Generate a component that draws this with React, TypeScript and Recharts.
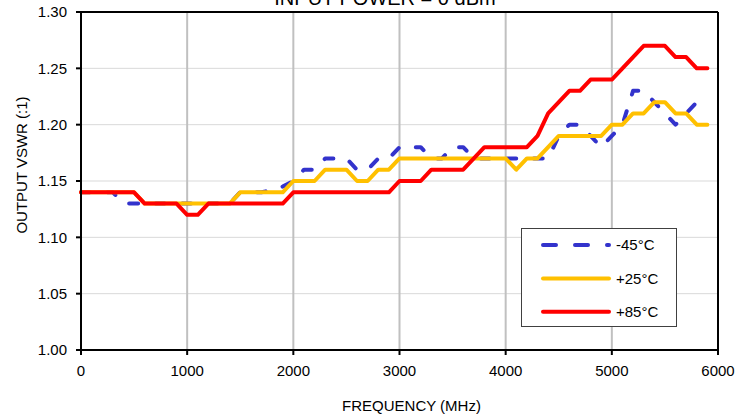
import React from 'react';
import {
  LineChart,
  Line,
  XAxis,
  YAxis,
  CartesianGrid,
  Legend,
  ReferenceLine,
  Label,
  Customized,
} from 'recharts';

const FONT = '"Liberation Sans", Arial, sans-serif';

// frequency in MHz
const freqs = [
  0, 100, 200, 300, 400, 500, 600, 700, 800, 900,
  1000, 1100, 1200, 1300, 1400, 1500, 1600, 1700, 1800, 1900,
  2000, 2100, 2200, 2300, 2400, 2500, 2600, 2700, 2800, 2900,
  3000, 3100, 3200, 3300, 3400, 3500, 3600, 3700, 3800, 3900,
  4000, 4100, 4200, 4300, 4400, 4500, 4600, 4700, 4800, 4900,
  5000, 5100, 5200, 5300, 5400, 5500, 5600, 5700, 5800, 5900,
];

// output VSWR at -45°C
const vswrMinus45 = [
  1.14, 1.14, 1.14, 1.14, 1.13, 1.13, 1.13, 1.13, 1.13, 1.13,
  1.13, 1.13, 1.13, 1.13, 1.13, 1.14, 1.14, 1.14, 1.142, 1.145,
  1.15, 1.16, 1.16, 1.17, 1.17, 1.17, 1.16, 1.16, 1.17, 1.17,
  1.18, 1.18, 1.18, 1.17, 1.17, 1.18, 1.18, 1.17, 1.17, 1.17,
  1.17, 1.17, 1.17, 1.17, 1.17, 1.19, 1.2, 1.2, 1.19, 1.18,
  1.19, 1.2, 1.23, 1.23, 1.22, 1.21, 1.2, 1.21, 1.22, 1.22,
];

// output VSWR at +25°C
const vswrPlus25 = [
  1.14, 1.14, 1.14, 1.14, 1.14, 1.14, 1.13, 1.13, 1.13, 1.13,
  1.13, 1.13, 1.13, 1.13, 1.13, 1.14, 1.14, 1.14, 1.14, 1.14,
  1.15, 1.15, 1.15, 1.16, 1.16, 1.16, 1.15, 1.15, 1.16, 1.16,
  1.17, 1.17, 1.17, 1.17, 1.17, 1.17, 1.17, 1.17, 1.17, 1.17,
  1.17, 1.16, 1.17, 1.17, 1.18, 1.19, 1.19, 1.19, 1.19, 1.19,
  1.2, 1.2, 1.21, 1.21, 1.22, 1.22, 1.21, 1.21, 1.2, 1.2,
];

// output VSWR at +85°C
const vswrPlus85 = [
  1.14, 1.14, 1.14, 1.14, 1.14, 1.14, 1.13, 1.13, 1.13, 1.13,
  1.12, 1.12, 1.13, 1.13, 1.13, 1.13, 1.13, 1.13, 1.13, 1.13,
  1.14, 1.14, 1.14, 1.14, 1.14, 1.14, 1.14, 1.14, 1.14, 1.14,
  1.15, 1.15, 1.15, 1.16, 1.16, 1.16, 1.16, 1.17, 1.18, 1.18,
  1.18, 1.18, 1.18, 1.19, 1.21, 1.22, 1.23, 1.23, 1.24, 1.24,
  1.24, 1.25, 1.26, 1.27, 1.27, 1.27, 1.26, 1.26, 1.25, 1.25,
];

const xTicks = [0, 1000, 2000, 3000, 4000, 5000, 6000];
const yTicks = [1.0, 1.05, 1.1, 1.15, 1.2, 1.25, 1.3];

const series = [
  { key: 'm45', name: '-45°C', color: '#3333cc', dash: true },
  { key: 'p25', name: '+25°C', color: '#ffc000', dash: false },
  { key: 'p85', name: '+85°C', color: '#ff0000', dash: false },
];

const data = freqs.map((f, i) => ({
  f,
  m45: vswrMinus45[i],
  p25: vswrPlus25[i],
  p85: vswrPlus85[i],
}));

const LegendBox = () => (
  <div
    style={{
      width: 156,
      height: 99,
      boxSizing: 'border-box',
      border: '1px solid #404040',
      background: '#fff',
    }}
  >
    <svg width={154} height={97} style={{ display: 'block' }}>
      {series.map((s, i) => {
        const cy = 16 + i * 33.4;
        return (
          <g key={s.key}>
            <line
              x1={21}
              x2={87}
              y1={cy}
              y2={cy}
              stroke={s.color}
              strokeWidth={4}
              strokeLinecap="round"
              strokeDasharray={s.dash ? '13 19' : undefined}
            />
            <text
              x={94}
              y={cy}
              dy="0.36em"
              fontFamily={FONT}
              fontSize={15}
              fill="#000"
            >
              {s.name}
            </text>
          </g>
        );
      })}
    </svg>
  </div>
);

const Title = () => (
  <text
    x={385}
    y={5}
    textAnchor="middle"
    fontFamily={FONT}
    fontSize={20}
    fill="#000"
  >
    INPUT POWER = 0 dBm
  </text>
);

const renderXLabel = (props: any) => {
  const { x, y, width } = props.viewBox;
  return (
    <text
      x={x + width / 2 + 12}
      y={y + 61}
      textAnchor="middle"
      fontFamily={FONT}
      fontSize={15}
      fill="#000"
    >
      FREQUENCY (MHz)
    </text>
  );
};

const renderYLabel = (props: any) => {
  const { x, y, height } = props.viewBox;
  const cx = x + 21;
  const cy = y + height / 2 - 16;
  return (
    <text
      x={cx}
      y={cy}
      transform={`rotate(-90, ${cx}, ${cy})`}
      textAnchor="middle"
      dominantBaseline="central"
      fontFamily={FONT}
      fontSize={15}
      fill="#000"
    >
      OUTPUT VSWR (:1)
    </text>
  );
};

export default function App() {
  return (
    <div style={{ position: 'absolute', left: 0, top: 0, width: 751, height: 416, background: '#fff' }}>
      <LineChart
        width={751}
        height={416}
        data={data}
        margin={{ top: 12, right: 33, bottom: 0, left: 0 }}
      >
        <CartesianGrid horizontal vertical={false} stroke="#d9d9d9" strokeWidth={1} />
        <CartesianGrid horizontal={false} vertical stroke="#c0c0c0" strokeWidth={2} />
        <XAxis
          dataKey="f"
          type="number"
          domain={[0, 6000]}
          ticks={xTicks}
          height={66}
          stroke="#000"
          strokeWidth={2}
          tickSize={5}
          tickMargin={10}
          tick={{ fill: '#000', fontSize: 15, fontFamily: FONT }}
        >
          <Label content={renderXLabel} />
        </XAxis>
        <YAxis
          type="number"
          domain={[1.0, 1.3]}
          ticks={yTicks}
          width={81}
          stroke="#000"
          strokeWidth={2}
          tickSize={5}
          tickMargin={9}
          tickFormatter={(v: number) => v.toFixed(2)}
          tick={{ fill: '#000', fontSize: 15, fontFamily: FONT }}
        >
          <Label content={renderYLabel} />
        </YAxis>
        <ReferenceLine y={1.3} stroke="#000" strokeWidth={2} />
        <ReferenceLine x={6000} stroke="#000" strokeWidth={2} />
        {series.map((s) => (
          <Line
            key={s.key}
            type="linear"
            dataKey={s.key}
            name={s.name}
            stroke={s.color}
            strokeWidth={4}
            strokeDasharray={s.dash ? '9 17.5' : undefined}
            strokeLinecap="round"
            strokeLinejoin="round"
            dot={false}
            activeDot={false}
            isAnimationActive={false}
          />
        ))}
        <Legend
          layout="vertical"
          align="center"
          verticalAlign="middle"
          content={() => <LegendBox />}
          wrapperStyle={{ left: 521, top: 228, width: 156, height: 99 }}
        />
        <Customized component={Title} />
      </LineChart>
    </div>
  );
}
